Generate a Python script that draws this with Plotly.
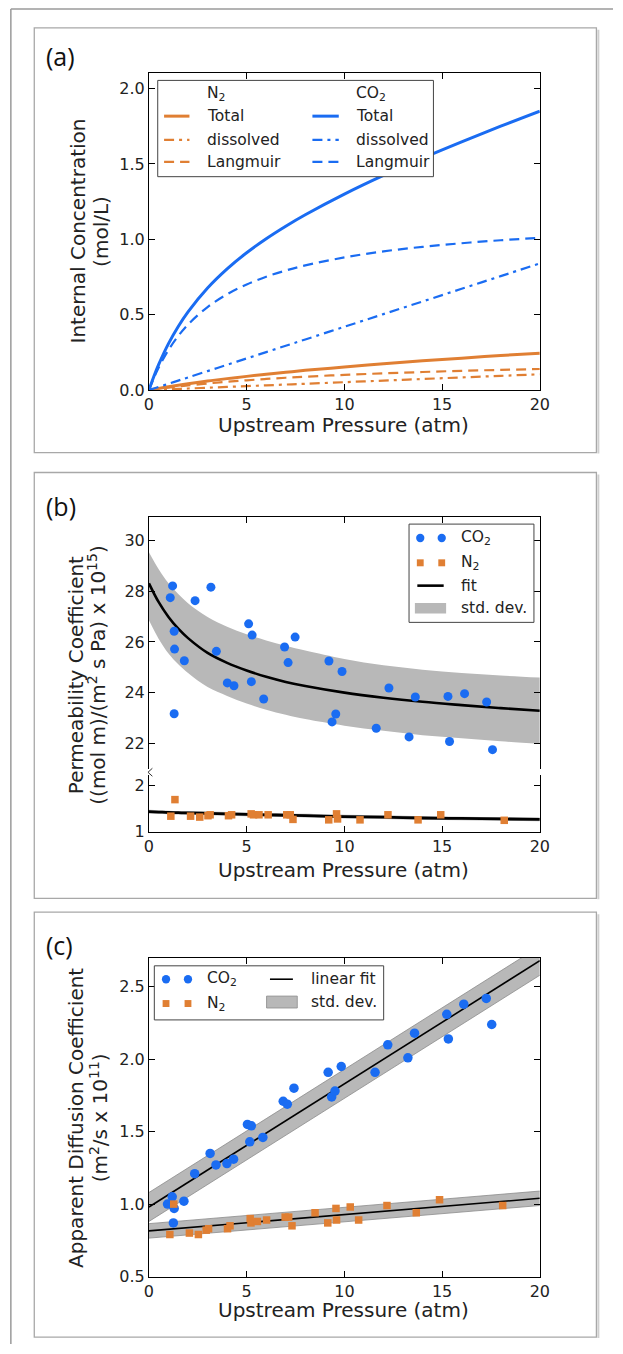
import plotly.graph_objects as go

# ---------------- data ----------------
# Panel (a): internal concentration (mol/L) vs upstream pressure (atm)
a_p = [0, 0.25, 0.5, 1, 1.5, 2, 3, 4, 5, 6, 7, 8, 10, 12, 14, 16, 18, 20]
a_co2_total = [0, 0.09, 0.17, 0.308, 0.422, 0.519, 0.677, 0.804, 0.911, 1.004, 1.087, 1.163, 1.30, 1.424, 1.538, 1.646, 1.75, 1.85]
a_co2_diss = [0, 0.0105, 0.021, 0.042, 0.063, 0.084, 0.126, 0.168, 0.21, 0.252, 0.294, 0.336, 0.42, 0.504, 0.588, 0.672, 0.756, 0.84]
a_co2_lang = [0, 0.08, 0.15, 0.266, 0.359, 0.435, 0.551, 0.636, 0.701, 0.752, 0.793, 0.827, 0.88, 0.92, 0.95, 0.974, 0.994, 1.01]
a_n2_total = [0, 0.006, 0.011, 0.022, 0.032, 0.042, 0.060, 0.076, 0.091, 0.105, 0.118, 0.131, 0.153, 0.174, 0.194, 0.212, 0.229, 0.245]
a_n2_diss = [0, 0.0013, 0.0026, 0.0053, 0.0079, 0.0105, 0.0158, 0.021, 0.0263, 0.0315, 0.0368, 0.042, 0.0525, 0.063, 0.0735, 0.084, 0.0945, 0.105]
a_n2_lang = [0, 0.0045, 0.0088, 0.017, 0.024, 0.031, 0.044, 0.055, 0.065, 0.074, 0.082, 0.089, 0.101, 0.111, 0.120, 0.128, 0.134, 0.140]

# Panel (b): permeability coefficient
b_co2_p = [1.09, 1.21, 1.29, 1.31, 1.29, 1.81, 2.36, 3.17, 3.45, 4.01, 4.35, 5.10, 5.24, 5.28, 5.87,
           6.94, 7.12, 7.48, 9.21, 9.37, 9.56, 9.88, 11.63, 12.28, 13.31, 13.63, 15.30, 15.38, 16.15, 17.28, 17.58]
b_co2_val = [27.74, 28.20, 26.42, 25.72, 23.18, 25.26, 27.62, 28.15, 25.63, 24.39, 24.28, 26.71, 24.44, 26.27, 23.76,
             25.80, 25.19, 26.19, 25.25, 22.86, 23.17, 24.84, 22.61, 24.19, 22.27, 23.84, 23.86, 22.09, 23.97, 23.64, 21.77]
b_n2_p = [1.12, 1.33, 2.13, 2.60, 3.02, 3.13, 4.07, 4.23, 5.23, 5.35, 5.63, 6.10, 7.05, 7.23, 7.37,
          9.20, 9.60, 9.65, 10.80, 12.23, 13.77, 14.93, 18.18]
b_n2_val = [1.34, 1.70, 1.34, 1.32, 1.35, 1.37, 1.35, 1.37, 1.39, 1.37, 1.37, 1.37, 1.37, 1.37, 1.27,
            1.26, 1.39, 1.28, 1.26, 1.37, 1.26, 1.37, 1.25]
b_fit_p = [0, 0.5, 1, 1.5, 2, 3, 4, 5, 6, 7, 8, 10, 12, 14, 16, 18, 20]
b_co2_fit = [28.30, 27.56, 26.98, 26.52, 26.15, 25.57, 25.18, 24.88, 24.63, 24.43, 24.27, 24.01, 23.81, 23.65, 23.52, 23.40, 23.30]
b_co2_hi = [29.52, 28.85, 28.30, 27.88, 27.52, 26.98, 26.60, 26.30, 26.06, 25.85, 25.66, 25.33, 25.08, 24.91, 24.78, 24.68, 24.60]
b_co2_lo = [26.85, 26.12, 25.55, 25.12, 24.78, 24.23, 23.88, 23.58, 23.34, 23.14, 22.97, 22.71, 22.51, 22.34, 22.22, 22.10, 22.00]
b_n2_fit = [1.44, 1.43, 1.42, 1.415, 1.41, 1.40, 1.39, 1.38, 1.37, 1.36, 1.35, 1.33, 1.32, 1.30, 1.29, 1.28, 1.27]
b_n2_hi = [1.48, 1.47, 1.46, 1.455, 1.45, 1.44, 1.43, 1.42, 1.41, 1.40, 1.39, 1.37, 1.36, 1.34, 1.33, 1.32, 1.31]
b_n2_lo = [1.40, 1.39, 1.38, 1.375, 1.37, 1.36, 1.35, 1.34, 1.33, 1.32, 1.31, 1.29, 1.28, 1.26, 1.25, 1.24, 1.23]

# Panel (c): apparent diffusion coefficient
c_co2_p = [0.95, 1.19, 1.29, 1.25, 1.79, 2.34, 3.13, 3.43, 3.99, 4.33, 5.04, 5.24, 5.16, 5.83, 6.87,
           7.08, 7.42, 9.17, 9.35, 9.52, 9.84, 11.57, 12.22, 13.25, 13.59, 15.24, 15.32, 16.11, 17.26, 17.54]
c_co2_val = [1.00, 1.05, 0.97, 0.87, 1.02, 1.21, 1.35, 1.27, 1.28, 1.31, 1.55, 1.54, 1.43, 1.46, 1.71,
             1.69, 1.80, 1.91, 1.74, 1.78, 1.95, 1.91, 2.10, 2.01, 2.18, 2.31, 2.14, 2.38, 2.42, 2.24]
c_n2_p = [1.07, 1.27, 2.07, 2.53, 2.93, 3.05, 4.02, 4.15, 5.18, 5.22, 5.55, 6.02, 6.97, 7.15, 7.32,
          8.50, 9.15, 9.57, 9.60, 10.30, 10.73, 12.18, 13.68, 14.87, 18.10]
c_n2_val = [0.79, 1.00, 0.80, 0.79, 0.82, 0.83, 0.83, 0.85, 0.90, 0.87, 0.88, 0.89, 0.91, 0.91, 0.85,
            0.94, 0.87, 0.97, 0.89, 0.98, 0.89, 0.99, 0.94, 1.03, 0.99]
c_fit_p = [0, 10, 20]
c_co2_fit = [0.98, 1.83, 2.68]
c_co2_hi = [1.08, 1.93, 2.78]
c_co2_lo = [0.88, 1.73, 2.58]
c_n2_fit = [0.815, 0.928, 1.04]
c_n2_hi = [0.865, 0.978, 1.09]
c_n2_lo = [0.765, 0.878, 0.99]

x_ticks = [0, 5, 10, 15, 20]

# ---------------- styling ----------------
W, H = 623, 1354
BLUE = '#1a6cf2'
ORANGE = '#e07f33'
BAND = 'rgb(184,184,184)'
FONT = 'DejaVu Sans'


def fx(p):
    return p / W


def fy(p):
    return 1 - p / H


XL, XR = 147.5, 548
A_top, A_bot = 74, 393
B1_top, B1_bot = 521, 775
B2_top, B2_bot = 781, 838
C_top, C_bot = 965, 1286

fig = go.Figure()


def band(xs, hi, lo, xa, ya, edge=None, shape='spline'):
    ec = edge if edge else BAND
    ew = 0.8 if edge else 0
    fig.add_trace(go.Scatter(x=xs, y=lo, mode='lines', line=dict(color=ec, width=ew, shape=shape),
                             xaxis=xa, yaxis=ya, hoverinfo='skip', showlegend=False))
    fig.add_trace(go.Scatter(x=xs, y=hi, mode='lines', fill='tonexty', fillcolor=BAND,
                             line=dict(color=ec, width=ew, shape=shape),
                             xaxis=xa, yaxis=ya, hoverinfo='skip', showlegend=False))


def line(xs, ys, xa, ya, color, width, dash='solid', shape='spline'):
    fig.add_trace(go.Scatter(x=xs, y=ys, mode='lines', line=dict(color=color, width=width, dash=dash, shape=shape),
                             xaxis=xa, yaxis=ya, showlegend=False, hoverinfo='skip'))


def pts(xs, ys, xa, ya, color, symbol, size):
    fig.add_trace(go.Scatter(x=xs, y=ys, mode='markers',
                             marker=dict(color=color, symbol=symbol, size=size, line=dict(width=0)),
                             xaxis=xa, yaxis=ya, showlegend=False, cliponaxis=False))


DASH = '10px,6px'
DASHDOT = '10px,5px,3px,5px'

# (a)
line(a_p, a_n2_lang, 'x', 'y', ORANGE, 2.2, DASH)
line(a_p, a_n2_diss, 'x', 'y', ORANGE, 2.2, DASHDOT)
line(a_p, a_n2_total, 'x', 'y', ORANGE, 3)
line(a_p, a_co2_lang, 'x', 'y', BLUE, 2.2, DASH)
line(a_p, a_co2_diss, 'x', 'y', BLUE, 2.2, DASHDOT)
line(a_p, a_co2_total, 'x', 'y', BLUE, 3)

# (b)
band(b_fit_p, b_co2_hi, b_co2_lo, 'x2', 'y2')
line(b_fit_p, b_co2_fit, 'x2', 'y2', 'black', 2.6)
pts(b_co2_p, b_co2_val, 'x2', 'y2', BLUE, 'circle', 9)
band(b_fit_p, b_n2_hi, b_n2_lo, 'x3', 'y3')
line(b_fit_p, b_n2_fit, 'x3', 'y3', 'black', 2.8)
pts(b_n2_p, b_n2_val, 'x3', 'y3', ORANGE, 'square', 7.5)

# (c)
band(c_fit_p, c_co2_hi, c_co2_lo, 'x4', 'y4', edge='rgb(140,140,140)', shape='linear')
band(c_fit_p, c_n2_hi, c_n2_lo, 'x4', 'y4', edge='rgb(140,140,140)', shape='linear')
line(c_fit_p, c_co2_fit, 'x4', 'y4', 'black', 1.6, shape='linear')
line(c_fit_p, c_n2_fit, 'x4', 'y4', 'black', 1.6, shape='linear')
pts(c_co2_p, c_co2_val, 'x4', 'y4', BLUE, 'circle', 9.5)
pts(c_n2_p, c_n2_val, 'x4', 'y4', ORANGE, 'square', 7.5)

tickfont = dict(family=FONT, size=16, color='#222')
base = dict(showline=True, linecolor='black', linewidth=1, ticks='inside', ticklen=6, tickwidth=1,
            tickcolor='black', showgrid=False, zeroline=False, tickfont=tickfont)
xdom = [fx(XL), fx(XR)]

fig.update_layout(
    width=W, height=H, margin=dict(l=0, r=0, t=0, b=0),
    paper_bgcolor='white', plot_bgcolor='white', showlegend=False,
    xaxis=dict(base, domain=xdom, anchor='y', range=[0, 20], tickvals=x_ticks, mirror='allticks'),
    yaxis=dict(base, domain=[fy(A_bot), fy(A_top)], anchor='x', range=[0, 2.1],
               tickvals=[0, 0.5, 1, 1.5, 2], tickformat='.1f', mirror='allticks'),
    xaxis2=dict(base, domain=xdom, anchor='y2', range=[0, 20], tickvals=x_ticks, side='top',
                showticklabels=False, mirror=False),
    yaxis2=dict(base, domain=[fy(B1_bot), fy(B1_top)], anchor='x2', range=[21, 30.9],
                tickvals=[22, 24, 26, 28, 30], mirror='allticks'),
    xaxis3=dict(base, domain=xdom, anchor='y3', range=[0, 20], tickvals=x_ticks, mirror=False),
    yaxis3=dict(base, domain=[fy(B2_bot), fy(B2_top)], anchor='x3', range=[1, 2.23],
                tickvals=[1, 2], mirror='allticks'),
    xaxis4=dict(base, domain=xdom, anchor='y4', range=[0, 20], tickvals=x_ticks, mirror='allticks'),
    yaxis4=dict(base, domain=[fy(C_bot), fy(C_top)], anchor='x4', range=[0.5, 2.7],
                tickvals=[0.5, 1, 1.5, 2, 2.5], tickformat='.1f', mirror='allticks'),
)

shapes = []
anns = []


def seg(x0, y0, x1, y1, color='black', width=1, dash='solid'):
    shapes.append(dict(type='line', xref='paper', yref='paper', x0=fx(x0), y0=fy(y0), x1=fx(x1), y1=fy(y1),
                       line=dict(color=color, width=width, dash=dash), layer='above'))


def rect(x0, y0, x1, y1, line_color, width=1, fill=None, layer='above'):
    shapes.append(dict(type='rect', xref='paper', yref='paper', x0=fx(x0), y0=fy(y0), x1=fx(x1), y1=fy(y1),
                       line=dict(color=line_color, width=width), fillcolor=fill if fill else 'rgba(0,0,0,0)',
                       layer=layer))


def circ(cx, cy, d, color):
    r = d / 2
    shapes.append(dict(type='circle', xref='paper', yref='paper', x0=fx(cx - r), y0=fy(cy + r), x1=fx(cx + r),
                       y1=fy(cy - r), line=dict(width=0), fillcolor=color, layer='above'))


def sq(cx, cy, d, color):
    r = d / 2
    rect(cx - r, cy - r, cx + r, cy + r, color, 0, color)


def text(t, x, y, size, xanchor='center', angle=0, family=FONT, color='#222'):
    anns.append(dict(text=t, x=fx(x), y=fy(y), xref='paper', yref='paper', showarrow=False,
                     xanchor=xanchor, yanchor='middle', textangle=angle,
                     font=dict(family=family, size=size, color=color)))


# outer frame
seg(6, 9, 623, 9, '#9a9a9a', 1.5)
seg(6, 9, 6, 1354, '#9a9a9a', 1.5)
# panel boxes
for (t, b) in [(28, 456), (476, 905), (919, 1347)]:
    rect(30, t, 606, b, '#a8a8a8', 1.3, layer='below')
    seg(608, t + 2, 608, b + 1, '#cfcfcf', 2)

# panel labels
text('(a)', 40, 56, 25, 'left', family='Open Sans', color='#111')
text('(b)', 40, 510, 25, 'left', family='Open Sans', color='#111')
text('(c)', 40, 952, 25, 'left', family='Open Sans', color='#111')

# axis titles
for yy in (428, 876, 1320):
    text('Upstream Pressure (atm)', 347, yy, 20)
text('Internal Concentration', 75, 233, 20, angle=-90)
text('(mol/L)', 99, 233, 20, angle=-90)
text('Permeability Coefficient', 73, 680, 20, angle=-90)
text('((mol m)/(m<sup>2</sup> s Pa) x 10<sup>15</sup>)', 94, 680, 20, angle=-90)
text('Apparent Diffusion Coefficient', 72, 1126, 20, angle=-90)
text('(m<sup>2</sup>/s x 10<sup>11</sup>)', 96, 1126, 20, angle=-90)

# break marks on panel (b)
seg(151, 774, 146.5, 778, '#333', 1)
seg(146.5, 778, 151, 782, '#333', 1)

LF = 15.5
# legend (a)
rect(156.5, 81, 439, 178, '#444', 1, 'white')
text('N<sub>2</sub>', 205, 95, LF, 'left')
text('CO<sub>2</sub>', 358, 95, LF, 'left')
for cx0, cx1, tx, col in [(163, 189, 205, ORANGE), (315, 342, 358, BLUE)]:
    seg(cx0, 117, cx1, 117, col, 3)
    seg(cx0, 141, cx1, 141, col, 2.2, DASHDOT)
    seg(cx0, 163, cx1, 163, col, 2.2, DASH)
    text('Total', tx, 117, LF, 'left')
    text('dissolved', tx, 141, LF, 'left')
    text('Langmuir', tx, 163, LF, 'left')

# legend (b)
rect(414, 528, 542, 627, '#444', 1, 'white')
circ(425.5, 542, 8.5, BLUE)
circ(447.5, 542, 8.5, BLUE)
sq(425.5, 567, 7, ORANGE)
sq(447.5, 567, 7, ORANGE)
seg(422.5, 590, 449.5, 590, 'black', 2.6)
rect(420, 607.5, 452, 618, BAND, 0, BAND)
text('CO<sub>2</sub>', 465, 542, LF, 'left')
text('N<sub>2</sub>', 465, 567, LF, 'left')
text('fit', 465, 590, LF, 'left')
text('std. dev.', 465, 613, LF, 'left')

# legend (c)
rect(153, 973, 388, 1027.5, '#444', 1, 'white')
circ(165, 986.5, 8.5, BLUE)
circ(187.5, 986.5, 8.5, BLUE)
sq(165, 1011, 7, ORANGE)
sq(187.5, 1011, 7, ORANGE)
text('CO<sub>2</sub>', 205, 986.5, LF, 'left')
text('N<sub>2</sub>', 205, 1011, LF, 'left')
seg(271.5, 986.5, 295, 986.5, 'black', 1.6)
rect(268, 1003.5, 299.5, 1015.5, 'rgb(140,140,140)', 0.8, BAND)
text('linear fit', 312, 986.5, LF, 'left')
text('std. dev.', 312, 1009.5, LF, 'left')

fig.update_layout(shapes=shapes, annotations=anns)
fig.write_html('out.html')
